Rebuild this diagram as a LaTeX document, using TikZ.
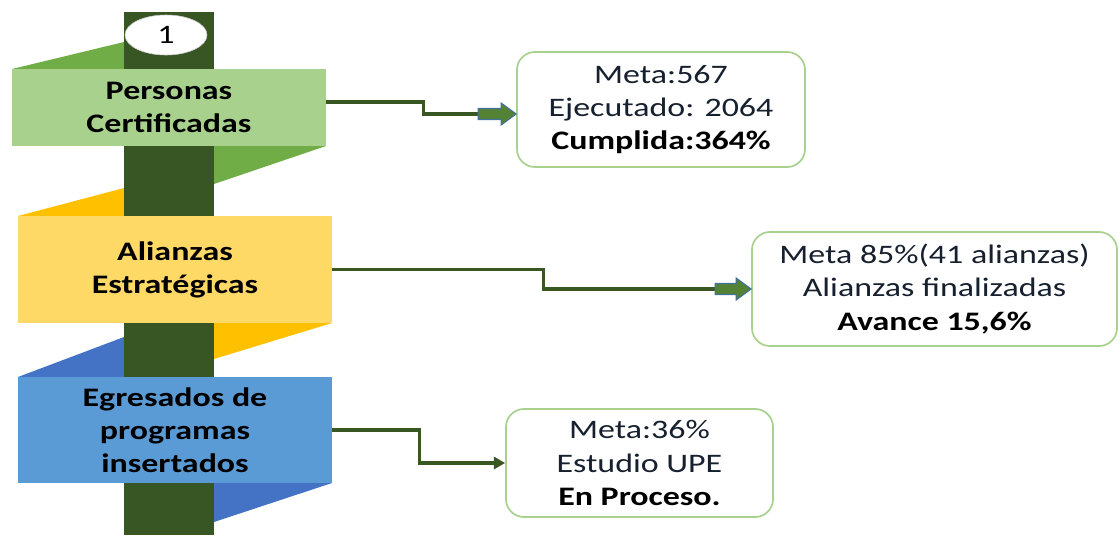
\documentclass[tikz,border=0pt]{standalone}
\usepackage{fontspec}
\setmainfont{Carlito}[FakeStretch=1.27]
\usetikzlibrary{shapes.geometric,arrows.meta,calc}

\definecolor{pole}{HTML}{375623}
\definecolor{bandG}{HTML}{A9D18E}
\definecolor{flapG}{HTML}{70AD47}
\definecolor{bandY}{HTML}{FFD966}
\definecolor{flapY}{HTML}{FFC000}
\definecolor{bandB}{HTML}{5B9BD5}
\definecolor{flapB}{HTML}{4472C4}
\definecolor{goalline}{HTML}{A9D18E}
\definecolor{goaltext}{HTML}{17202E}
\definecolor{connline}{HTML}{385723}
\definecolor{arrowfill}{HTML}{548235}
\definecolor{arrowline}{HTML}{41719C}

\begin{document}
\begin{tikzpicture}[x=0.025cm,y=-0.025cm,
band/.style = {minimum width=7.85cm, inner sep=0pt, align=center,
     font=\fontsize{19}{23.5}\selectfont\bfseries},
goal/.style = {draw=goalline, line width=1.2pt, rounded corners=0.45cm,
     fill=white, inner sep=0pt, align=center, text=goaltext,
     font=\fontsize{19}{23.5}\selectfont},
blk arrow/.style = {draw=arrowline, fill=arrowfill, line width=0.8pt,
     line join=miter},
conn/.style = {draw=connline, line width=2.4pt}]

\useasboundingbox (0,0) rectangle (1119,535);

% flaps behind the pole
\foreach \c/\xl/\ta/\tb/\xr/\ba/\bb in {flapG/12/69/42/326/146/184,
    flapY/18/216/188/332/323/359, flapB/18/377/337/332/483/522} {
      \fill[\c] (\xl,\ta) -- (124,\tb) -- (124,\ta) -- cycle;
      \fill[\c] (\xr,\ba) -- (214,\bb) -- (214,\ba) -- cycle;
    }
\fill[pole] (124,12) rectangle (214,535);

\node[band, fill=bandG, minimum height=1.925cm] (p1) at (169,107.5) {Personas\\Certificadas};
\node[band, fill=bandY, minimum height=2.675cm] (p2) at (175,269.5) {Alianzas\\Estratégicas};
\node[band, fill=bandB, minimum height=2.65cm] (p3) at (175,430) {Egresados de\\programas\\insertados};
\node[ellipse, draw=gray!40, fill=white, minimum width=2.05cm, minimum height=1cm,
     inner sep=0pt, font=\fontsize{19}{19}\selectfont] (n1) at (166,35) {1};

\node[goal, minimum width=7.2cm, minimum height=2.875cm] (m1) at (661,109.5)
     {Meta:567\\Ejecutado: 2064\\\textbf{\color{black}Cumplida:364\%}};
\node[goal, minimum width=9.125cm, minimum height=2.85cm] (m2) at (934.5,289)
     {Meta 85\%(41 alianzas)\\Alianzas finalizadas\\\textbf{\color{black}Avance 15,6\%}};
\node[goal, minimum width=6.675cm, minimum height=2.7cm] (m3) at (639.5,463)
     {Meta:36\%\\Estudio UPE\\\textbf{\color{black}En Proceso.}};

\coordinate (arr1) at ($(m1.west)+(-38,4.5)$);
\coordinate (arr2) at ($(m2.west)+(-36,0)$);

\draw[conn] ($(p1.east)+(0,-5.5)$) -- ++(97,0) |- (arr1);
\draw[conn] (p2.east) -- ++(211,0) |- (arr2);
\draw[conn, -{Triangle[length=0.28cm,width=0.3cm]}] (p3.east) -- ++(87,0) |- (m3.west);

% block arrows
\foreach \t/\a/\l in {m1/4.5/23, m2/0/21} {
  \draw[blk arrow] ($(\t.west)+(0,\a)$) -- ++(-15,-11) -- ++(0,5.5) -- ++(-\l,0)
     -- ++(0,11) -- ++(\l,0) -- ++(0,5.5) -- cycle;
}

\end{tikzpicture}
\end{document}
